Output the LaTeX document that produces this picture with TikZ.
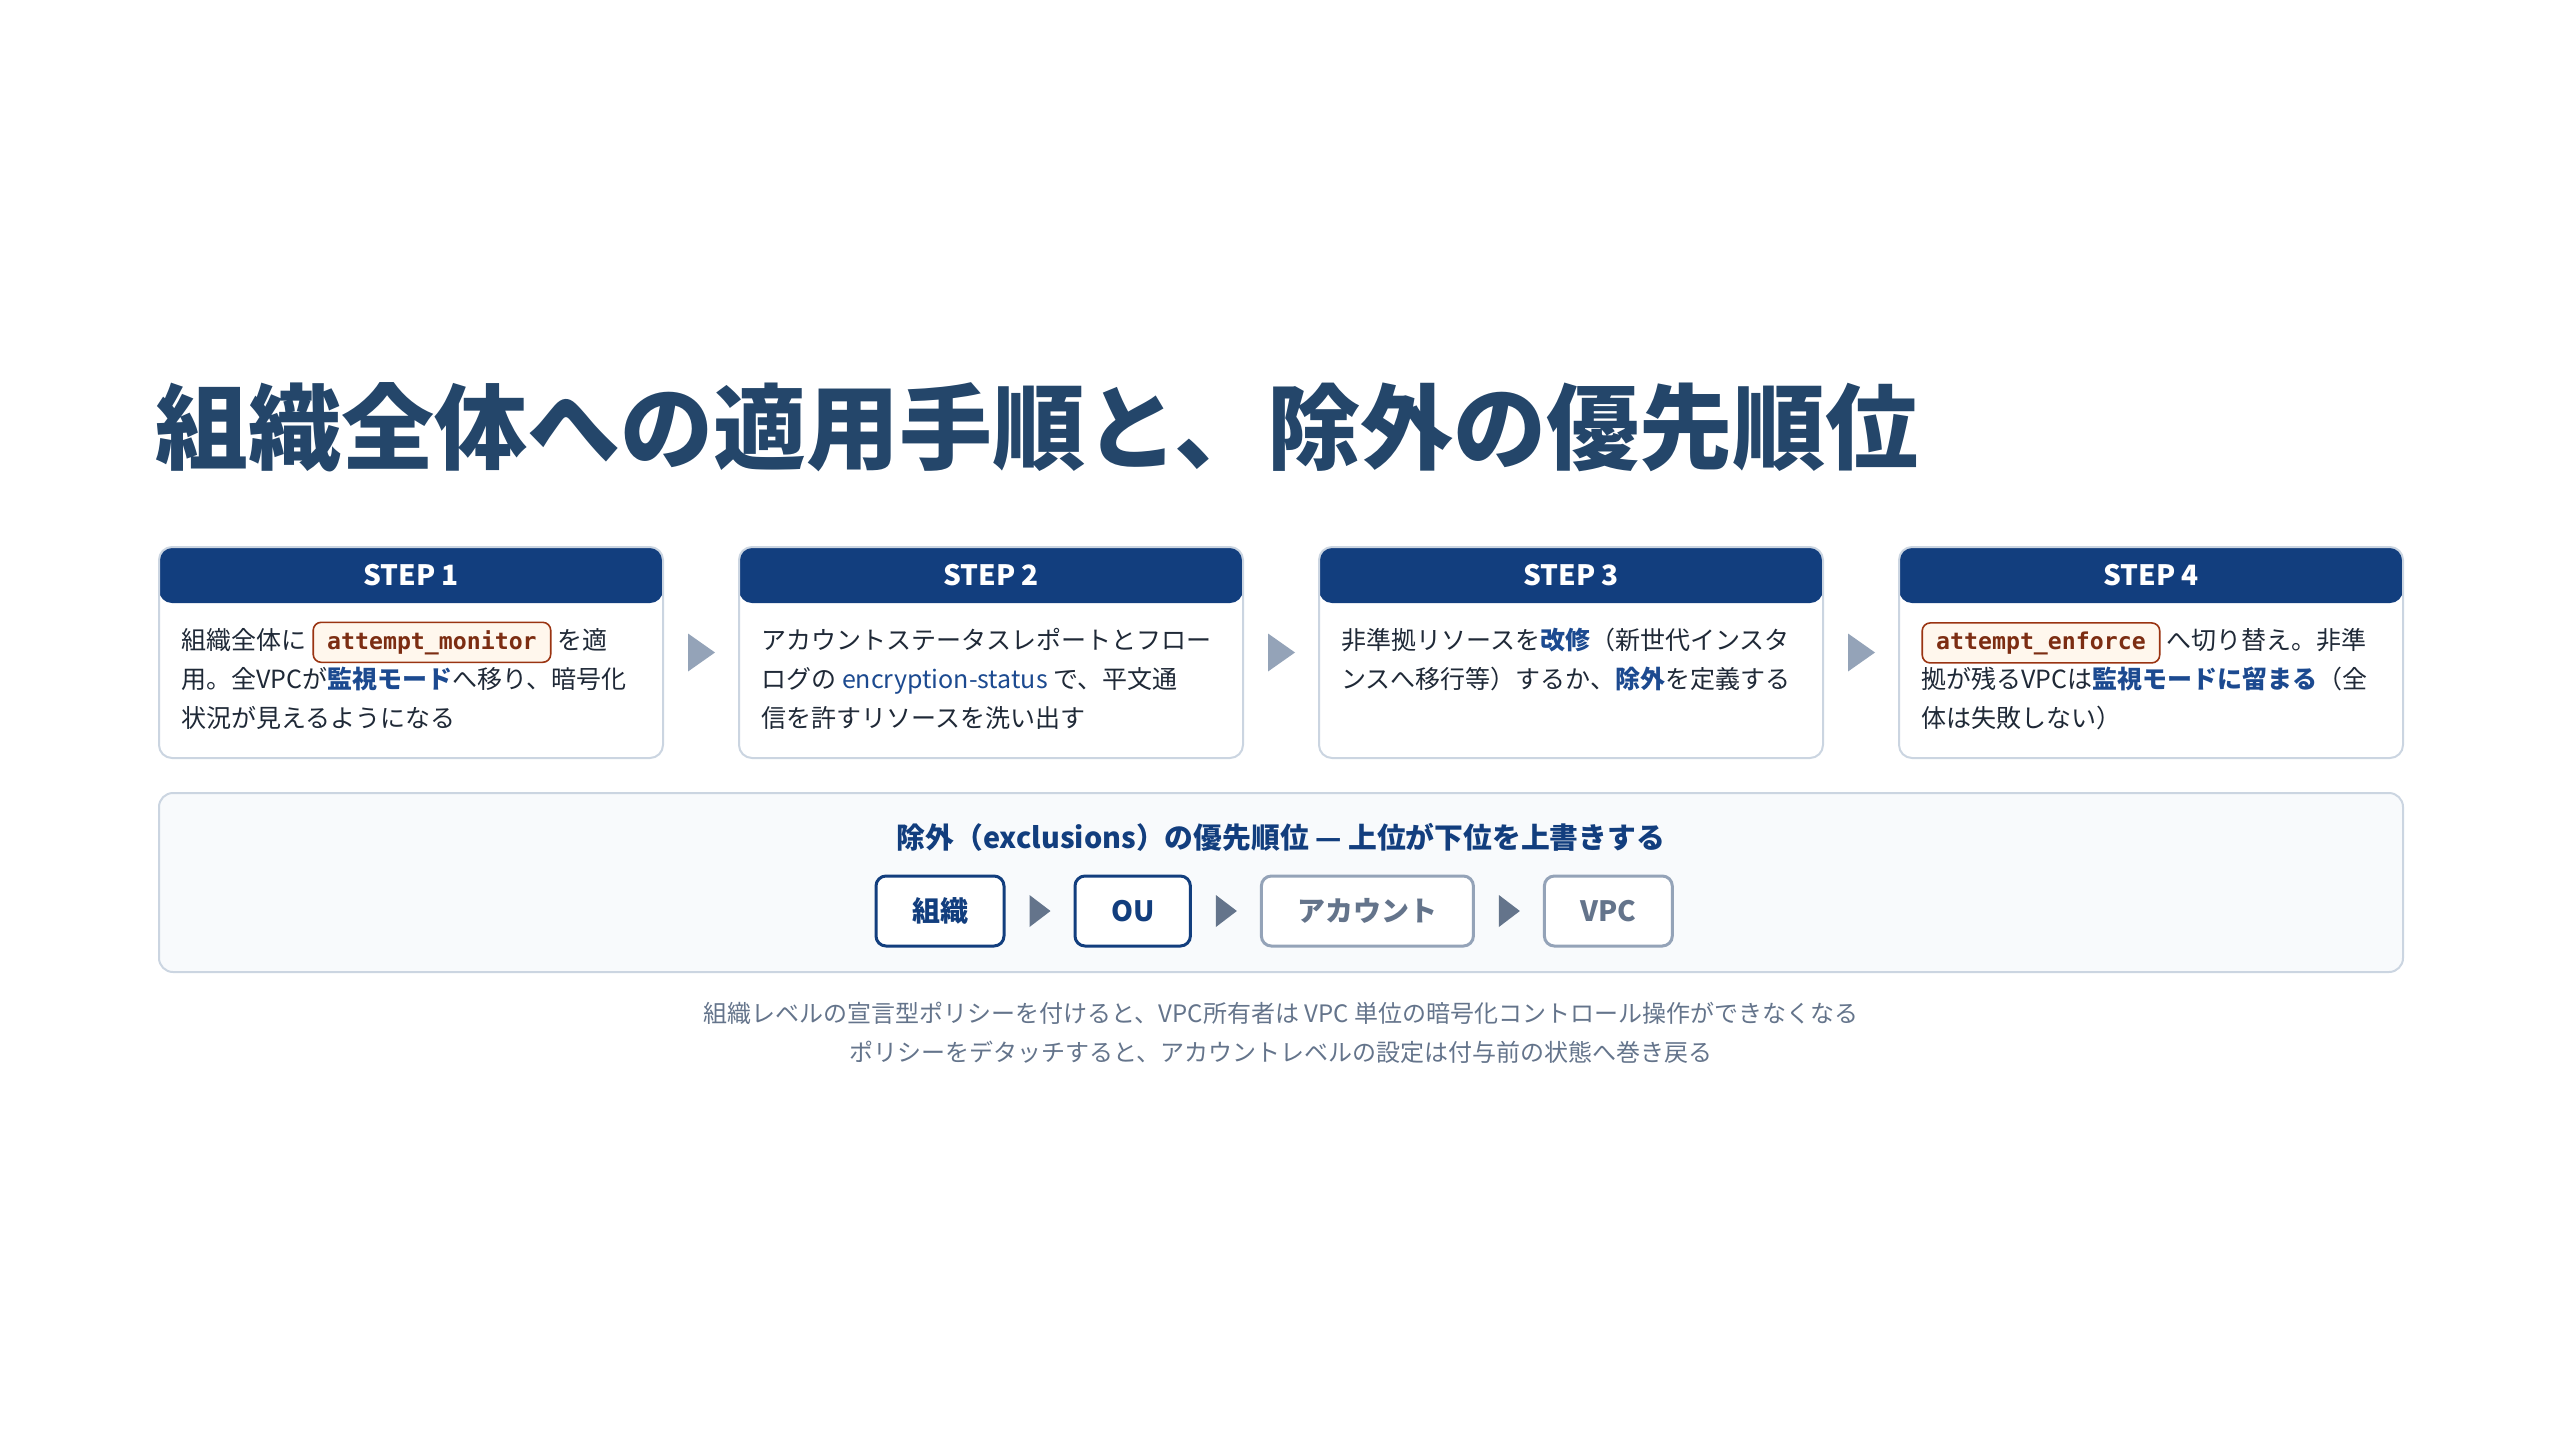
\documentclass[tikz,border=0pt]{standalone}
\usepackage{fontspec}
\setmainfont{Noto Sans CJK JP}
\newfontfamily\codefont{DejaVu Sans Mono}
\usetikzlibrary{positioning,calc}

\definecolor{titleblue}{HTML}{24466A}
\definecolor{headnavy}{HTML}{123E7E}
\definecolor{linkblue}{HTML}{1C4A90}
\definecolor{bodytext}{HTML}{1F2937}
\definecolor{cardline}{HTML}{CBD5E1}
\definecolor{panelfill}{HTML}{F8FAFC}
\definecolor{slate}{HTML}{64748B}
\definecolor{slatelight}{HTML}{94A3B8}
\definecolor{codefill}{HTML}{FFF7ED}
\definecolor{codeline}{HTML}{9A3412}
\definecolor{codetext}{HTML}{7C2D12}

\tikzset{codechip/.style={draw=codeline, line width=0.8pt, fill=codefill, rounded corners=4pt,
    inner xsep=7pt, inner ysep=0pt, minimum height=20pt, text=codetext,
    font=\codefont\bfseries\fontsize{11.6pt}{14pt}\selectfont}}
\newcommand\code[1]{\tikz[baseline=(chip.base)]\node[codechip] (chip) {#1};}
\newcommand\hl[1]{\textcolor{linkblue}{\bfseries #1}}

\begin{document}
\begin{tikzpicture}[x=0.5pt, y=-0.5pt,
    card/.style={draw=cardline, line width=1pt, fill=white, rounded corners=6.5pt,
        minimum width=252pt, minimum height=105.5pt, inner sep=0pt, outer sep=0pt,
        path picture={\fill[headnavy] (path picture bounding box.north west)
            rectangle ([yshift=-28pt]path picture bounding box.north east);}},
    stephead/.style={text=white, font=\bfseries\fontsize{14pt}{16pt}\selectfont},
    cardtext/.style={anchor=base west, align=left, inner sep=0pt, text=bodytext,
        font=\fontsize{12.5pt}{19.5pt}\selectfont},
    panel/.style={draw=cardline, line width=1pt, fill=panelfill, rounded corners=7pt,
        minimum width=1122pt, minimum height=89.5pt},
    chip/.style={draw, line width=1.5pt, fill=white, rounded corners=5pt, minimum height=35pt,
        inner xsep=18pt, inner ysep=0pt, font=\bfseries\fontsize{14pt}{16pt}\selectfont},
    chipnavy/.style={chip, draw=headnavy, text=headnavy},
    chipgray/.style={chip, draw=slatelight, text=slate}]
    \useasboundingbox (0,0) rectangle (2560,1440);

    % title
    \node[anchor=west, inner sep=0pt, text=titleblue, font=\bfseries\fontsize{46.5pt}{50pt}\selectfont]
        (title) at (155,427) {組織全体への適用手順と、除外の優先順位};

    % steps (text is placed by its last line)
    \node[card] (s1) at (411,652.5) {};
    \node[card] (s2) at (991,652.5) {};
    \node[card] (s3) at (1571,652.5) {};
    \node[card] (s4) at (2151,652.5) {};
    \node[stephead] (h1) at ([yshift=-14pt]s1.north) {STEP 1};
    \node[stephead] (h2) at ([yshift=-14pt]s2.north) {STEP 2};
    \node[stephead] (h3) at ([yshift=-14pt]s3.north) {STEP 3};
    \node[stephead] (h4) at ([yshift=-14pt]s4.north) {STEP 4};
    \node[cardtext] (t1) at ([xshift=11pt, yshift=-90pt]s1.north west)
        {組織全体に\hspace{3pt}\code{attempt\_monitor}\hspace{3pt}を適\\
         用。全VPCが\hl{監視モード}へ移り、暗号化\\
         状況が見えるようになる};
    \node[cardtext] (t2) at ([xshift=11pt, yshift=-90pt]s2.north west)
        {アカウントステータスレポートとフロー\\
         ログの \textcolor{linkblue}{encryption-status} で、平文通\\
         信を許すリソースを洗い出す};
    \node[cardtext] (t3) at ([xshift=11pt, yshift=-70.5pt]s3.north west)
        {非準拠リソースを\hl{改修}（新世代インスタ\\
         ンスへ移行等）するか、\hl{除外}を定義する};
    \node[cardtext] (t4) at ([xshift=11pt, yshift=-90pt]s4.north west)
        {\code{attempt\_enforce}\hspace{3pt}へ切り替え。非準\\
         拠が残るVPCは\hl{監視モードに留まる}（全\\
         体は失敗しない）};
    \fill[slatelight] ($(s1.east)!0.5!(s2.west)+(-13,-19)$) -- ++(27,19) -- ++(-27,19) -- cycle;
    \fill[slatelight] ($(s2.east)!0.5!(s3.west)+(-13,-19)$) -- ++(27,19) -- ++(-27,19) -- cycle;
    \fill[slatelight] ($(s3.east)!0.5!(s4.west)+(-13,-19)$) -- ++(27,19) -- ++(-27,19) -- cycle;

    % exclusion priority
    \node[panel] (prio) at (1281,882.5) {};
    \node[text=headnavy, font=\bfseries\fontsize{14.4pt}{16pt}\selectfont] (ptitle) at (1281,837)
        {除外（exclusions）の優先順位 — 上位が下位を上書きする};
    \node[chipnavy] (org) at (940,911) {組織};
    \node[chipnavy, right=34pt of org] (ou) {OU};
    \node[chipgray, right=34pt of ou] (acct) {アカウント};
    \node[chipgray, right=34pt of acct] (vpc) {VPC};
    \fill[slate] ($(org.east)!0.5!(ou.west)+(-10,-16)$) -- ++(21,16) -- ++(-21,16) -- cycle;
    \fill[slate] ($(ou.east)!0.5!(acct.west)+(-10,-16)$) -- ++(21,16) -- ++(-21,16) -- cycle;
    \fill[slate] ($(acct.east)!0.5!(vpc.west)+(-10,-16)$) -- ++(21,16) -- ++(-21,16) -- cycle;

    % notes
    \node[align=center, text=slate, font=\fontsize{12pt}{19.5pt}\selectfont] (note) at (1281,1033)
        {組織レベルの宣言型ポリシーを付けると、VPC所有者は VPC 単位の暗号化コントロール操作ができなくなる\\
         ポリシーをデタッチすると、アカウントレベルの設定は付与前の状態へ巻き戻る};
\end{tikzpicture}
\end{document}
